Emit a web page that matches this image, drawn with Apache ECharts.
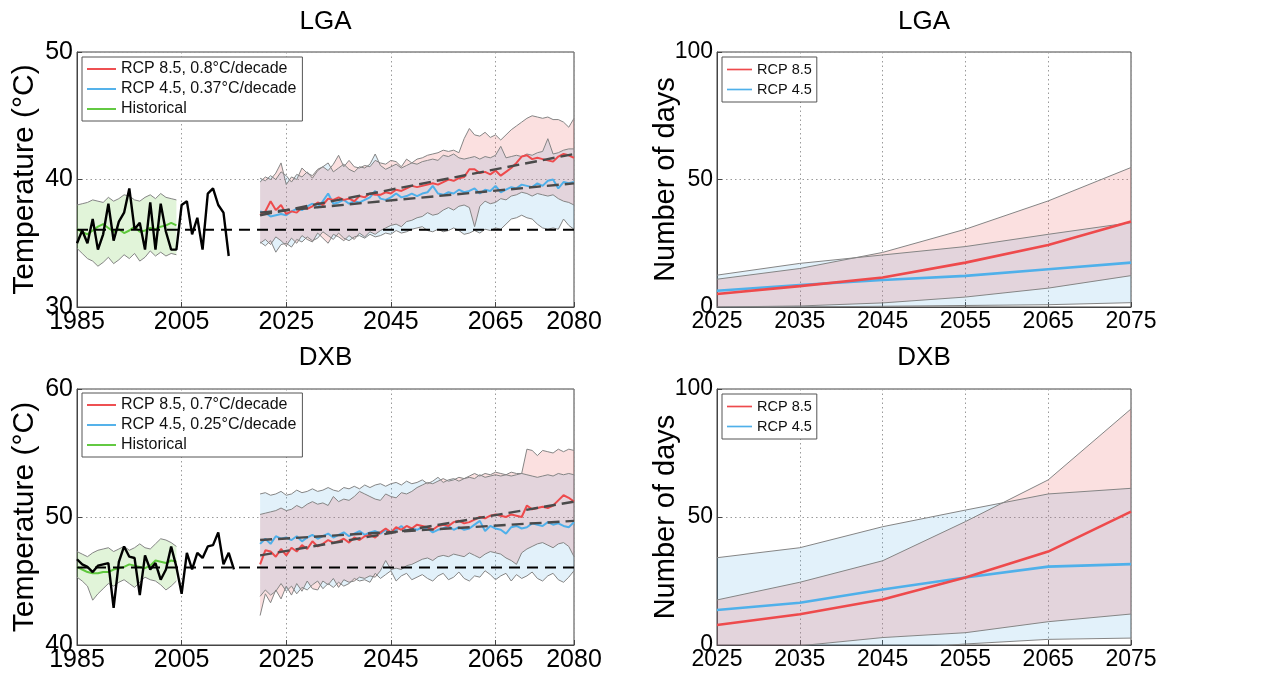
<!DOCTYPE html>
<html>
<head>
<meta charset="utf-8">
<title>LGA / DXB temperature and hot-day projections</title>
<script src="https://cdn.jsdelivr.net/npm/echarts@6/dist/echarts.min.js"></script>
<style>
  html, body { margin: 0; padding: 0; background: #fff; }
  #chart { width: 1271px; height: 676px; }
</style>
</head>
<body>
<div id="chart"></div>
<script>
// ---------------- data ----------------
// Left panels: annual maximum temperature (°C), yearly category axis 1985-2080
const firstYear = 1985;
const lastYear = 2080;
const yearTicks = [1985, 2005, 2025, 2045, 2065, 2080];
const obsStartYear = 1985;
const histStartYear = 1985;       // historical model ensemble 1985-2004
const projStartYear = 2020;       // projections 2020-2080

// LGA observed annual maximum, 1985-2014
const lgaObs = [35.0, 36.0, 35.0, 36.9, 34.5, 35.7, 38.1, 35.2, 36.7, 37.4,
                39.3, 36.1, 36.6, 34.5, 38.2, 34.5, 38.1, 35.9, 34.5, 34.5,
                38.0, 38.3, 35.7, 37.0, 34.5, 38.9, 39.3, 38.0, 37.4, 34.0];
// LGA historical ensemble mean / spread, 1985-2004
const lgaHist   = [36.1, 35.9, 35.7, 36.0, 36.3, 36.5, 36.2, 35.9, 36.1, 35.8,
                   36.0, 36.3, 35.9, 36.0, 36.2, 36.1, 36.3, 36.4, 36.6, 36.4];
const lgaHistHi = [38.0, 38.1, 38.2, 38.4, 38.3, 38.2, 38.6, 38.3, 38.5, 38.8,
                   38.7, 38.4, 38.3, 38.6, 38.8, 38.5, 38.9, 38.6, 38.5, 38.4];
const lgaHistLo = [34.6, 34.2, 33.8, 33.6, 33.2, 33.5, 33.9, 33.4, 33.7, 34.1,
                   33.8, 34.2, 33.6, 33.9, 34.4, 34.0, 34.3, 34.0, 34.2, 34.1];
const lgaHistAvg = 36.05;
// LGA projections 2020-2080
const lgaR85 = [37.2, 37.5, 38.3, 37.6, 38.0, 37.3, 37.5, 37.4, 37.8, 37.7,
                37.9, 38.2, 38.0, 38.5, 38.4, 38.6, 38.4, 38.5, 38.3, 38.7,
                38.6, 38.9, 38.8, 38.8, 39.0, 38.9, 39.2, 39.1, 39.3, 39.5,
                39.4, 39.5, 39.6, 39.7, 39.6, 39.8, 40.0, 39.9, 40.1, 40.2,
                40.8, 40.8, 40.5, 40.6, 40.4, 40.7, 40.3, 40.6, 40.9, 41.3,
                41.8, 41.9, 41.6, 41.7, 41.6, 41.5, 41.4, 41.8, 42.0, 41.9, 41.7];
const lgaR45 = [37.5, 37.4, 37.1, 37.2, 37.3, 37.2, 37.5, 37.7, 37.6, 37.9,
                38.1, 37.8, 38.3, 38.9, 38.1, 38.2, 38.4, 38.1, 38.3, 38.2,
                38.4, 38.6, 39.1, 38.5, 38.4, 38.6, 38.9, 38.6, 38.7, 38.9,
                38.7, 38.9, 39.0, 39.5, 38.9, 38.8, 39.0, 38.9, 39.2, 39.0,
                39.1, 39.3, 38.9, 39.2, 39.1, 39.5, 39.0, 39.2, 39.4, 39.3,
                39.6, 39.5, 39.4, 39.7, 39.5, 39.9, 40.0, 39.3, 39.8, 39.7, 39.8];
const lgaR85Hi = [39.8, 40.2, 40.0, 40.5, 41.3, 39.6, 40.2, 40.0, 40.9, 40.5,
                  40.3, 40.8, 41.0, 40.7, 41.2, 41.9, 41.0, 41.5, 41.0, 40.9,
                  41.1, 41.0, 41.5, 41.3, 41.2, 41.5, 41.4, 41.0, 41.6, 41.3,
                  41.6, 41.7, 41.9, 42.0, 42.1, 42.3, 42.2, 42.3, 42.1, 43.2,
                  44.0, 43.5, 43.4, 43.7, 43.3, 43.5, 43.1, 43.5, 43.9, 44.2,
                  44.5, 44.8, 45.0, 44.9, 44.8, 44.9, 44.7, 44.7, 44.5, 44.1, 44.8];
const lgaR45Hi = [40.1, 39.9, 40.3, 40.0, 40.6, 40.3, 39.8, 40.4, 40.2, 40.6,
                  40.1, 40.7, 41.0, 41.3, 40.6, 40.9, 41.2, 40.8, 40.6, 41.0,
                  40.9, 41.2, 42.0, 41.1, 40.8, 41.0, 41.2, 40.9, 41.1, 41.3,
                  41.2, 41.4, 41.5, 41.6, 41.5, 41.9, 41.8, 42.0, 41.7, 41.6,
                  41.7, 41.8, 41.6, 41.8, 41.7, 41.9, 42.6, 41.7, 41.8, 41.9,
                  41.8, 42.0, 41.9, 42.1, 42.2, 43.2, 42.0, 42.1, 42.3, 42.4, 42.4];
const lgaR85Lo = [35.0, 35.3, 34.9, 35.5, 35.2, 34.8, 35.4, 35.0, 35.6, 35.3,
                  35.1, 35.8, 35.4, 35.0, 35.7, 35.5, 35.2, 35.6, 35.3, 35.8,
                  35.5, 35.9, 35.7, 36.0, 36.2, 36.4, 36.5, 36.3, 36.7, 36.8,
                  37.0, 37.1, 37.4, 37.2, 37.3, 37.6, 37.8, 37.6, 37.9, 38.0,
                  37.8, 36.3, 37.9, 38.3, 38.1, 38.2, 38.5, 38.4, 38.7, 38.8,
                  39.0, 38.9, 38.7, 38.9, 38.8, 38.7, 38.8, 38.5, 38.3, 38.2, 38.0];
const lgaR45Lo = [35.1, 34.8, 35.2, 34.3, 34.9, 35.0, 34.7, 35.3, 35.1, 35.5,
                  35.2, 35.4, 35.9, 35.6, 35.3, 35.8, 35.4, 35.2, 35.5, 35.6,
                  35.4, 35.7, 35.5, 35.6, 35.8, 35.7, 36.0, 35.8, 35.9, 36.1,
                  36.2, 36.3, 36.0, 35.9, 36.1, 35.9, 36.0, 36.2, 36.0, 35.7,
                  35.8, 36.0, 35.8, 36.1, 36.0, 36.2, 36.1, 36.5, 36.9, 37.0,
                  37.2, 37.0, 36.9, 36.5, 36.2, 36.1, 36.2, 36.1, 36.9, 36.4, 36.1];
// linear trend end points (2020, 2080)
const trendYears = [2020, 2080];
const lgaTrendR85 = [37.2, 42.0];
const lgaTrendR45 = [37.4, 39.7];

// DXB observed annual maximum, 1985-2015
const dxbObs = [46.7, 46.3, 46.1, 45.7, 46.2, 46.3, 46.4, 42.9, 46.5, 47.7,
                46.9, 46.8, 43.9, 47.0, 45.9, 46.4, 45.1, 45.9, 47.7, 46.1,
                44.0, 47.2, 45.9, 47.2, 46.8, 47.7, 47.8, 48.8, 46.3, 47.2, 45.9];
const dxbHist   = [46.1, 45.9, 45.7, 45.6, 45.6, 45.7, 45.7, 45.9, 46.0, 46.1,
                   46.3, 46.2, 46.1, 46.0, 46.2, 46.6, 46.5, 46.4, 46.6, 46.5];
const dxbHistHi = [47.3, 47.1, 46.9, 47.2, 47.4, 47.5, 47.6, 47.3, 47.5, 47.7,
                   47.4, 47.6, 47.9, 47.6, 47.5, 47.9, 48.3, 48.2, 48.0, 47.7];
const dxbHistLo = [45.3, 45.0, 44.6, 43.5, 44.0, 44.4, 44.8, 44.6, 44.9, 45.1,
                   44.8, 44.5, 44.9, 45.3, 45.1, 45.0, 44.7, 44.3, 44.6, 45.0];
const dxbHistAvg = 46.05;
const dxbR85 = [46.3, 47.4, 47.3, 46.9, 47.5, 47.0, 47.6, 47.3, 47.8, 47.5,
                48.1, 47.7, 47.9, 48.2, 48.0, 48.1, 48.3, 48.0, 48.4, 48.2,
                48.5, 48.6, 48.4, 48.8, 49.1, 48.8, 49.2, 49.0, 49.3, 49.1,
                49.4, 49.3, 49.2, 49.0, 49.3, 49.4, 49.3, 49.6, 49.7, 49.5,
                49.6, 49.8, 50.0, 49.9, 50.1, 50.2, 50.1, 50.0, 50.2, 50.1,
                50.0, 50.9, 50.6, 50.7, 50.8, 50.7, 50.9, 51.3, 51.7, 51.5, 51.2];
const dxbR45 = [47.9, 48.3, 47.9, 48.5, 48.3, 48.4, 48.2, 48.5, 48.1, 48.4,
                48.6, 48.3, 48.5, 48.7, 48.4, 48.6, 48.8, 48.5, 48.7, 48.9,
                48.6, 48.8, 48.9, 48.7, 49.0, 48.8, 49.0, 49.3, 48.9, 49.1,
                49.0, 49.2, 49.1, 48.8, 49.0, 49.1, 49.3, 49.0, 49.2, 49.0,
                49.1, 49.4, 49.7, 48.9, 49.3, 49.1, 49.0, 48.7, 49.2, 49.3,
                49.1, 49.2, 49.5, 49.4, 49.3, 49.6, 49.4, 49.5, 49.3, 49.2, 49.6];
const dxbR85Hi = [50.2, 50.3, 50.4, 50.5, 50.7, 50.5, 50.6, 50.9, 50.7, 51.0,
                  51.2, 51.0, 51.1, 50.9, 51.6, 51.2, 51.4, 51.3, 51.6, 52.0,
                  51.8, 51.6, 51.4, 51.3, 51.8, 51.6, 51.5, 51.9, 51.8, 52.0,
                  52.3, 52.5, 52.7, 52.6, 52.8, 53.0, 52.8, 52.9, 53.1, 53.0,
                  53.2, 53.4, 53.2, 53.4, 53.3, 53.5, 53.4, 53.3, 53.5, 53.4,
                  53.4, 55.3, 55.2, 54.8, 55.2, 55.1, 55.0, 55.3, 55.1, 55.3, 55.2];
const dxbR45Hi = [51.8, 51.9, 51.7, 51.8, 52.0, 51.7, 51.8, 52.1, 51.9, 52.0,
                  52.2, 52.0, 52.1, 52.3, 52.1, 52.0, 52.3, 52.2, 52.4, 52.2,
                  52.5, 52.3, 52.5, 52.6, 52.4, 52.6, 52.7, 52.5, 52.8, 52.6,
                  52.7, 52.9, 52.6, 52.8, 53.1, 52.7, 52.9, 53.0, 52.8, 53.0,
                  53.1, 53.0, 53.3, 53.1, 53.2, 53.3, 53.2, 53.3, 53.2, 53.3,
                  53.4, 53.3, 53.2, 53.1, 53.2, 53.3, 53.2, 53.4, 53.3, 53.4, 53.3];
const dxbR85Lo = [42.3, 44.0, 43.3, 44.3, 43.6, 44.6, 43.9, 44.8, 44.2, 45.0,
                  44.4, 44.3, 45.0, 44.7, 45.2, 44.5, 45.1, 44.9, 45.0, 45.3,
                  45.2, 45.4, 45.3, 45.8, 46.6, 45.9, 46.0, 45.9, 46.2, 46.3,
                  46.5, 46.7, 46.8, 46.6, 46.9, 47.0, 46.9, 47.1, 47.0, 46.9,
                  47.2, 47.0, 46.8, 47.1, 47.3, 47.2, 47.1, 46.8, 46.6, 46.3,
                  47.2, 47.5, 47.7, 47.9, 48.0, 47.8, 47.6, 47.9, 48.0, 47.7, 46.9];
const dxbR45Lo = [43.8, 44.3, 43.9, 44.2, 44.8, 44.2, 44.6, 44.0, 44.5, 44.3,
                  44.7, 45.0, 44.4, 44.8, 44.5, 44.9, 44.6, 44.8, 45.2, 45.0,
                  45.1, 44.9, 45.6, 45.2, 45.5, 45.8, 45.0, 45.4, 45.6, 45.1,
                  45.3, 45.5, 45.2, 45.0, 45.4, 45.6, 45.1, 45.3, 45.7, 45.2,
                  45.0, 45.4, 45.3, 45.8, 45.5, 45.1, 45.4, 45.6, 45.0, 45.5,
                  45.2, 45.4, 45.7, 45.2, 45.0, 45.4, 45.6, 45.1, 44.9, 45.3, 45.8];
const dxbTrendR85 = [47.0, 51.2];
const dxbTrendR45 = [48.2, 49.7];

// Right panels: number of hot days per decade
const decades = ['2025', '2035', '2045', '2055', '2065', '2075'];
const lgaDaysR85   = [5.1, 8.2, 11.6, 17.4, 24.3, 33.5];
const lgaDaysR45   = [6.4, 8.6, 10.6, 12.2, 14.8, 17.4];
const lgaDaysR85Hi = [10.9, 15.1, 21.4, 30.5, 41.6, 54.7];
const lgaDaysR85Lo = [0.0, 0.4, 1.6, 3.9, 7.4, 12.3];
const lgaDaysR45Hi = [12.5, 17.1, 20.4, 23.7, 28.5, 33.1];
const lgaDaysR45Lo = [-0.5, 0.0, 0.3, 0.6, 0.9, 1.7];
const dxbDaysR85   = [7.8, 12.0, 17.8, 26.4, 36.5, 52.1];
const dxbDaysR45   = [13.7, 16.5, 21.7, 26.4, 30.6, 31.6];
const dxbDaysR85Hi = [17.6, 24.5, 32.9, 48.2, 64.5, 92.2];
const dxbDaysR85Lo = [-2.0, -0.3, 2.9, 4.8, 9.1, 12.1];
const dxbDaysR45Hi = [34.1, 38.0, 46.2, 52.7, 59.0, 61.2];
const dxbDaysR45Lo = [-6.0, -4.0, -2.0, 0.4, 2.2, 2.7];

// legend labels
const lgaNames = ['RCP 8.5, 0.8°C/decade', 'RCP 4.5, 0.37°C/decade', 'Historical'];
const dxbNames = ['RCP 8.5, 0.7°C/decade', 'RCP 4.5, 0.25°C/decade', 'Historical'];
const dayNames = ['RCP 8.5', 'RCP 4.5'];

// ---------------- styling ----------------
const FONT = '"Liberation Sans", Arial, Helvetica, sans-serif';
const RED = '#ee4a4c';
const BLUE = '#4fb0ea';
const GREEN = '#5ec83c';
const EDGE = '#858585';
const FILL_RED = 'rgba(236, 92, 92, 0.19)';
const FILL_BLUE = 'rgba(82, 172, 228, 0.17)';
const FILL_GREEN = 'rgba(120, 205, 80, 0.22)';
const LINE_ICON = 'path://M0,0H30V2H0Z';

// ---------------- helpers ----------------
const allYears = [];
for (let y = firstYear; y <= lastYear; y++) allYears.push(String(y));

// place a run of yearly values on the 1985-2080 category axis
function onYears(startYear, vals) {
  const out = allYears.map(() => '-');
  vals.forEach((v, i) => { out[startYear - firstYear + i] = v; });
  return out;
}
// place values at individual years
function atYears(yrs, vals) {
  const out = allYears.map(() => '-');
  yrs.forEach((y, i) => { out[y - firstYear] = vals[i]; });
  return out;
}
// shaded envelope: lower edge + (upper - lower) stacked on it
function band(key, axis, lo, hi, fill, placeFn) {
  const common = {
    type: 'line', xAxisIndex: axis, yAxisIndex: axis,
    stack: key, stackStrategy: 'all', symbol: 'none', silent: true,
    lineStyle: { color: EDGE, width: 1 }, z: 1, animation: false
  };
  const span = hi.map((v, i) => v - lo[i]);
  return [
    Object.assign({}, common, { data: placeFn(lo) }),
    Object.assign({}, common, { data: placeFn(span), areaStyle: { color: fill, opacity: 1 } })
  ];
}
function line(name, axis, data, color, width, extra) {
  return Object.assign({
    name: name, type: 'line', xAxisIndex: axis, yAxisIndex: axis,
    data: data, symbol: 'none', lineStyle: { color: color, width: width },
    itemStyle: { color: color }, z: 2, animation: false
  }, extra || {});
}
function dashed(axis, data, color, width, dash) {
  return {
    type: 'line', xAxisIndex: axis, yAxisIndex: axis, data: data, symbol: 'none',
    connectNulls: true, silent: true,
    lineStyle: { color: color, width: width, type: dash }, z: 3, animation: false
  };
}

// one temperature panel (left column)
function tempPanel(axis, names, obs, hist, histHi, histLo, histAvg,
                   r85, r45, r85Hi, r85Lo, r45Hi, r45Lo, tr85, tr45) {
  const proj = v => onYears(projStartYear, v);
  const histPlace = v => onYears(histStartYear, v);
  return [].concat(
    band('b45_' + axis, axis, r45Lo, r45Hi, FILL_BLUE, proj),
    band('b85_' + axis, axis, r85Lo, r85Hi, FILL_RED, proj),
    band('bh_' + axis, axis, histLo, histHi, FILL_GREEN, histPlace),
    [
      line(names[1], axis, proj(r45), BLUE, 2),
      line(names[0], axis, proj(r85), RED, 2),
      line(names[2], axis, histPlace(hist), GREEN, 2),
      line('observed', axis, onYears(obsStartYear, obs), '#000', 2.4),
      dashed(axis, atYears([firstYear, lastYear], [histAvg, histAvg]), '#000', 2, [11, 7]),
      dashed(axis, atYears(trendYears, tr85), '#4a4a4a', 2.4, [12, 6]),
      dashed(axis, atYears(trendYears, tr45), '#4a4a4a', 2.4, [12, 6])
    ]
  );
}
// one hot-day panel (right column)
function daysPanel(axis, r85, r45, r85Hi, r85Lo, r45Hi, r45Lo) {
  const same = v => v.slice();
  return [].concat(
    band('d45_' + axis, axis, r45Lo, r45Hi, FILL_BLUE, same),
    band('d85_' + axis, axis, r85Lo, r85Hi, FILL_RED, same),
    [
      line(dayNames[1], axis, r45, BLUE, 2.6),
      line(dayNames[0], axis, r85, RED, 2.6)
    ]
  );
}

// ---------------- layout ----------------
const grids = [
  { left: 77,  top: 52,  width: 497, height: 255 },
  { left: 717, top: 52,  width: 414, height: 255 },
  { left: 77,  top: 389, width: 497, height: 256 },
  { left: 717, top: 389, width: 414, height: 256 }
].map(g => Object.assign({
  show: true, borderColor: '#444', borderWidth: 1, backgroundColor: '#fff',
  containLabel: false, outerBoundsMode: 'none'
}, g));

const splitDotsStyle = { color: '#9a9a9a', width: 1, type: [1.5, 3] };
const axisLine = { show: true, lineStyle: { color: '#444', width: 1 } };
const tickStyle = { color: '#444' };
const isYearTick = (idx, val) => yearTicks.indexOf(Number(val)) >= 0;

function yearAxis(i) {
  return {
    type: 'category', gridIndex: i, data: allYears, boundaryGap: false,
    axisLabel: { interval: isYearTick, margin: 3, color: '#000', fontSize: 25, fontFamily: FONT },
    axisLine: axisLine,
    axisTick: { show: true, inside: true, length: 5, interval: isYearTick, lineStyle: tickStyle },
    splitLine: { show: true, interval: isYearTick, lineStyle: splitDotsStyle }
  };
}
function decadeAxis(i) {
  return {
    type: 'category', gridIndex: i, data: decades, boundaryGap: false,
    axisLabel: { interval: 0, margin: 3, color: '#000', fontSize: 23, fontFamily: FONT },
    axisLine: axisLine,
    axisTick: { show: true, inside: true, length: 5, interval: 0, lineStyle: tickStyle },
    splitLine: { show: true, interval: 0, lineStyle: splitDotsStyle }
  };
}
function valueAxis(i, min, max, interval, name, labelSize, nameGap, nameSize) {
  return {
    type: 'value', gridIndex: i, min: min, max: max, interval: interval,
    name: name, nameLocation: 'middle', nameGap: nameGap, nameRotate: 90,
    nameMoveOverlap: false,
    nameTextStyle: { color: '#000', fontSize: nameSize, fontFamily: FONT },
    axisLabel: { margin: 4, color: '#000', fontSize: labelSize, fontFamily: FONT },
    axisLine: axisLine,
    axisTick: { show: true, inside: true, length: 5, lineStyle: tickStyle },
    splitLine: { show: true, lineStyle: splitDotsStyle }
  };
}

function legendBox(left, top, names, fontSize, itemWidth, gap, pad) {
  return {
    left: left, top: top, orient: 'vertical', data: names,
    icon: LINE_ICON, itemWidth: itemWidth, itemHeight: 14, itemGap: gap, padding: pad,
    backgroundColor: '#fff', borderColor: '#555', borderWidth: 1, borderRadius: 0,
    textStyle: { color: '#111', fontSize: fontSize, fontFamily: FONT },
    selectedMode: false
  };
}

function titleAt(text, cx, top) {
  return {
    text: text, left: cx, top: top, textAlign: 'center', padding: 0,
    textStyle: { color: '#000', fontSize: 26, fontWeight: 'normal', fontFamily: FONT }
  };
}

const option = {
  animation: false,
  backgroundColor: '#fff',
  title: [
    titleAt('LGA', 325.5, 9),
    titleAt('LGA', 924, 9),
    titleAt('DXB', 325.5, 345),
    titleAt('DXB', 924, 345)
  ],
  legend: [
    legendBox(82, 57, lgaNames, 16, 29, 4, [4, 6, 4, 5]),
    legendBox(722, 57, dayNames, 14.5, 25, 5, [5, 5, 5, 5]),
    legendBox(82, 393, dxbNames, 16, 29, 4, [4, 6, 4, 5]),
    legendBox(722, 394, dayNames, 14.5, 25, 5, [5, 5, 5, 5])
  ],
  grid: grids,
  xAxis: [yearAxis(0), decadeAxis(1), yearAxis(2), decadeAxis(3)],
  yAxis: [
    valueAxis(0, 30, 50, 10, 'Temperature (°C)', 25, 37, 30),
    valueAxis(1, 0, 100, 50, 'Number of days', 23, 37, 29),
    valueAxis(2, 40, 60, 10, 'Temperature (°C)', 25, 37, 30),
    valueAxis(3, 0, 100, 50, 'Number of days', 23, 37, 29)
  ],
  series: [].concat(
    tempPanel(0, lgaNames, lgaObs, lgaHist, lgaHistHi, lgaHistLo, lgaHistAvg,
              lgaR85, lgaR45, lgaR85Hi, lgaR85Lo, lgaR45Hi, lgaR45Lo, lgaTrendR85, lgaTrendR45),
    daysPanel(1, lgaDaysR85, lgaDaysR45, lgaDaysR85Hi, lgaDaysR85Lo, lgaDaysR45Hi, lgaDaysR45Lo),
    tempPanel(2, dxbNames, dxbObs, dxbHist, dxbHistHi, dxbHistLo, dxbHistAvg,
              dxbR85, dxbR45, dxbR85Hi, dxbR85Lo, dxbR45Hi, dxbR45Lo, dxbTrendR85, dxbTrendR45),
    daysPanel(3, dxbDaysR85, dxbDaysR45, dxbDaysR85Hi, dxbDaysR85Lo, dxbDaysR45Hi, dxbDaysR45Lo)
  )
};

const chart = echarts.init(document.getElementById('chart'), null, { renderer: 'canvas' });
chart.setOption(option);
</script>
</body>
</html>
